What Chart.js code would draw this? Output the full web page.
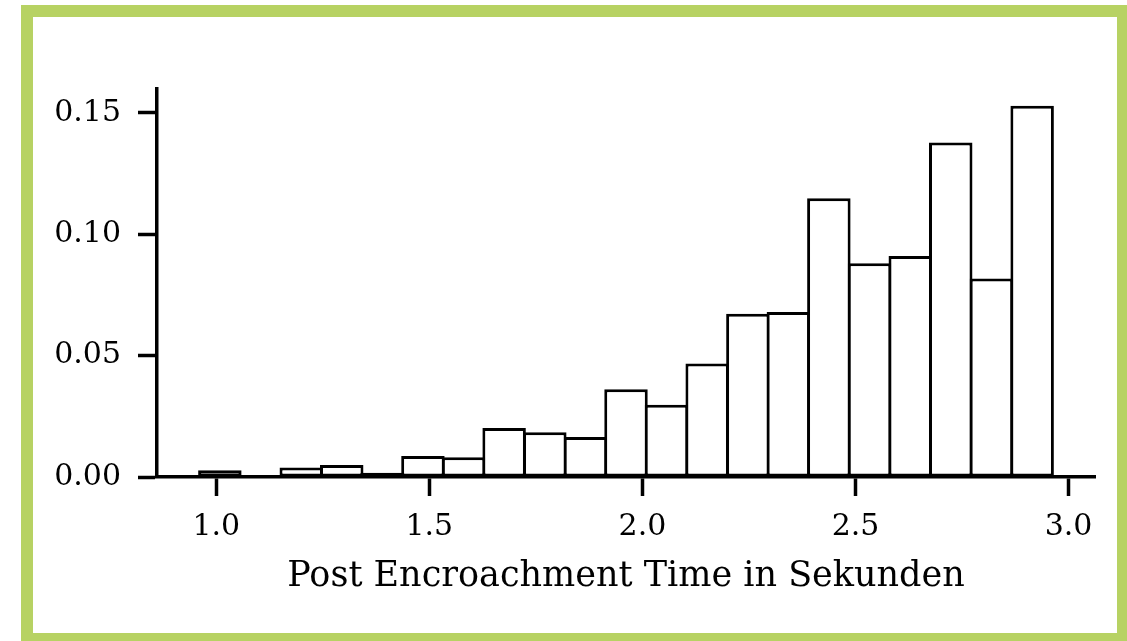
<!DOCTYPE html>
<html><head><meta charset="utf-8">
<script src="https://cdn.jsdelivr.net/npm/chart.js@4.4.0/dist/chart.umd.min.js"></script>
<style>
html,body{margin:0;padding:0;width:1127px;height:641px;overflow:hidden;background:#fff;}
#frame{position:absolute;left:21px;top:5px;width:1084px;height:616px;border:12px solid #b7d263;background:#fff;}
#wrap{position:absolute;left:0;top:0;width:1084px;height:616px;}
</style></head><body>
<div id="frame"><div id="wrap"><canvas id="c"></canvas></div></div>
<script>
// histogram bin edges (seconds)
const binEdges = [0.961, 1.056, 1.152, 1.247, 1.342, 1.437, 1.533, 1.628, 1.723, 1.819, 1.914,
                  2.009, 2.104, 2.200, 2.295, 2.390, 2.485, 2.581, 2.676, 2.771, 2.867, 2.962];
// relative frequency per bin
const density = [0.0028, 0.0, 0.0039, 0.0049, 0.0017, 0.0087, 0.0081, 0.0202, 0.0184, 0.0165, 0.0361,
                 0.0298, 0.0467, 0.0672, 0.0680, 0.1148, 0.0880, 0.0910, 0.1378, 0.0818, 0.1529];
const xTicks = [1.0, 1.5, 2.0, 2.5, 3.0];
const yTicks = [0.00, 0.05, 0.10, 0.15];
const xLabel = 'Post Encroachment Time in Sekunden';

const points = density.map((v, i) => ({x: (binEdges[i] + binEdges[i + 1]) / 2, y: v}));
const FONT = {family: "'DejaVu Serif', serif", size: 30};
const TITLE_FONT = {family: "'DejaVu Serif', serif", size: 35};

new Chart(document.getElementById('c'), {
  type: 'bar',
  data: {datasets: [{
    data: points,
    backgroundColor: '#ffffff',
    borderColor: '#000000',
    borderWidth: 3,
    borderSkipped: false,
    inflateAmount: 0,
    barPercentage: 1.074,
    categoryPercentage: 1
  }]},
  options: {
    responsive: true,
    maintainAspectRatio: false,
    animation: false,
    layout: {padding: {left: 0, right: 22, top: 71.5, bottom: 0}},
    plugins: {legend: {display: false}, tooltip: {enabled: false}},
    scales: {
      x: {
        type: 'linear', min: 0.861, max: 3.062, offset: false,
        afterBuildTicks: s => { s.ticks = xTicks.map(v => ({value: v})); },
        afterFit: s => { s.height = 156; s.paddingLeft = 0; s.paddingRight = 0; },
        grid: {display: true, offset: false, drawOnChartArea: false, drawTicks: true, tickLength: 19, tickWidth: 3.5, tickColor: '#000'},
        border: {display: true, color: '#000', width: 3.5},
        ticks: {color: '#000', font: FONT, padding: 13, maxRotation: 0, autoSkip: false,
                callback: v => Number(v).toFixed(1)},
        title: {display: true, text: xLabel, color: '#000', font: TITLE_FONT, padding: {top: 0, bottom: 35}}
      },
      y: {
        type: 'linear', min: 0, max: 0.16,
        afterBuildTicks: s => { s.ticks = yTicks.map(v => ({value: v})); },
        afterFit: s => { s.width = 124; },
        grid: {display: true, drawOnChartArea: false, drawTicks: true, tickLength: 19, tickWidth: 3.5, tickColor: '#000'},
        border: {display: true, color: '#000', width: 3.5},
        ticks: {color: '#000', font: FONT, padding: 17, autoSkip: false,
                callback: v => Number(v).toFixed(2)}
      }
    }
  }
});
</script>
</body></html>
